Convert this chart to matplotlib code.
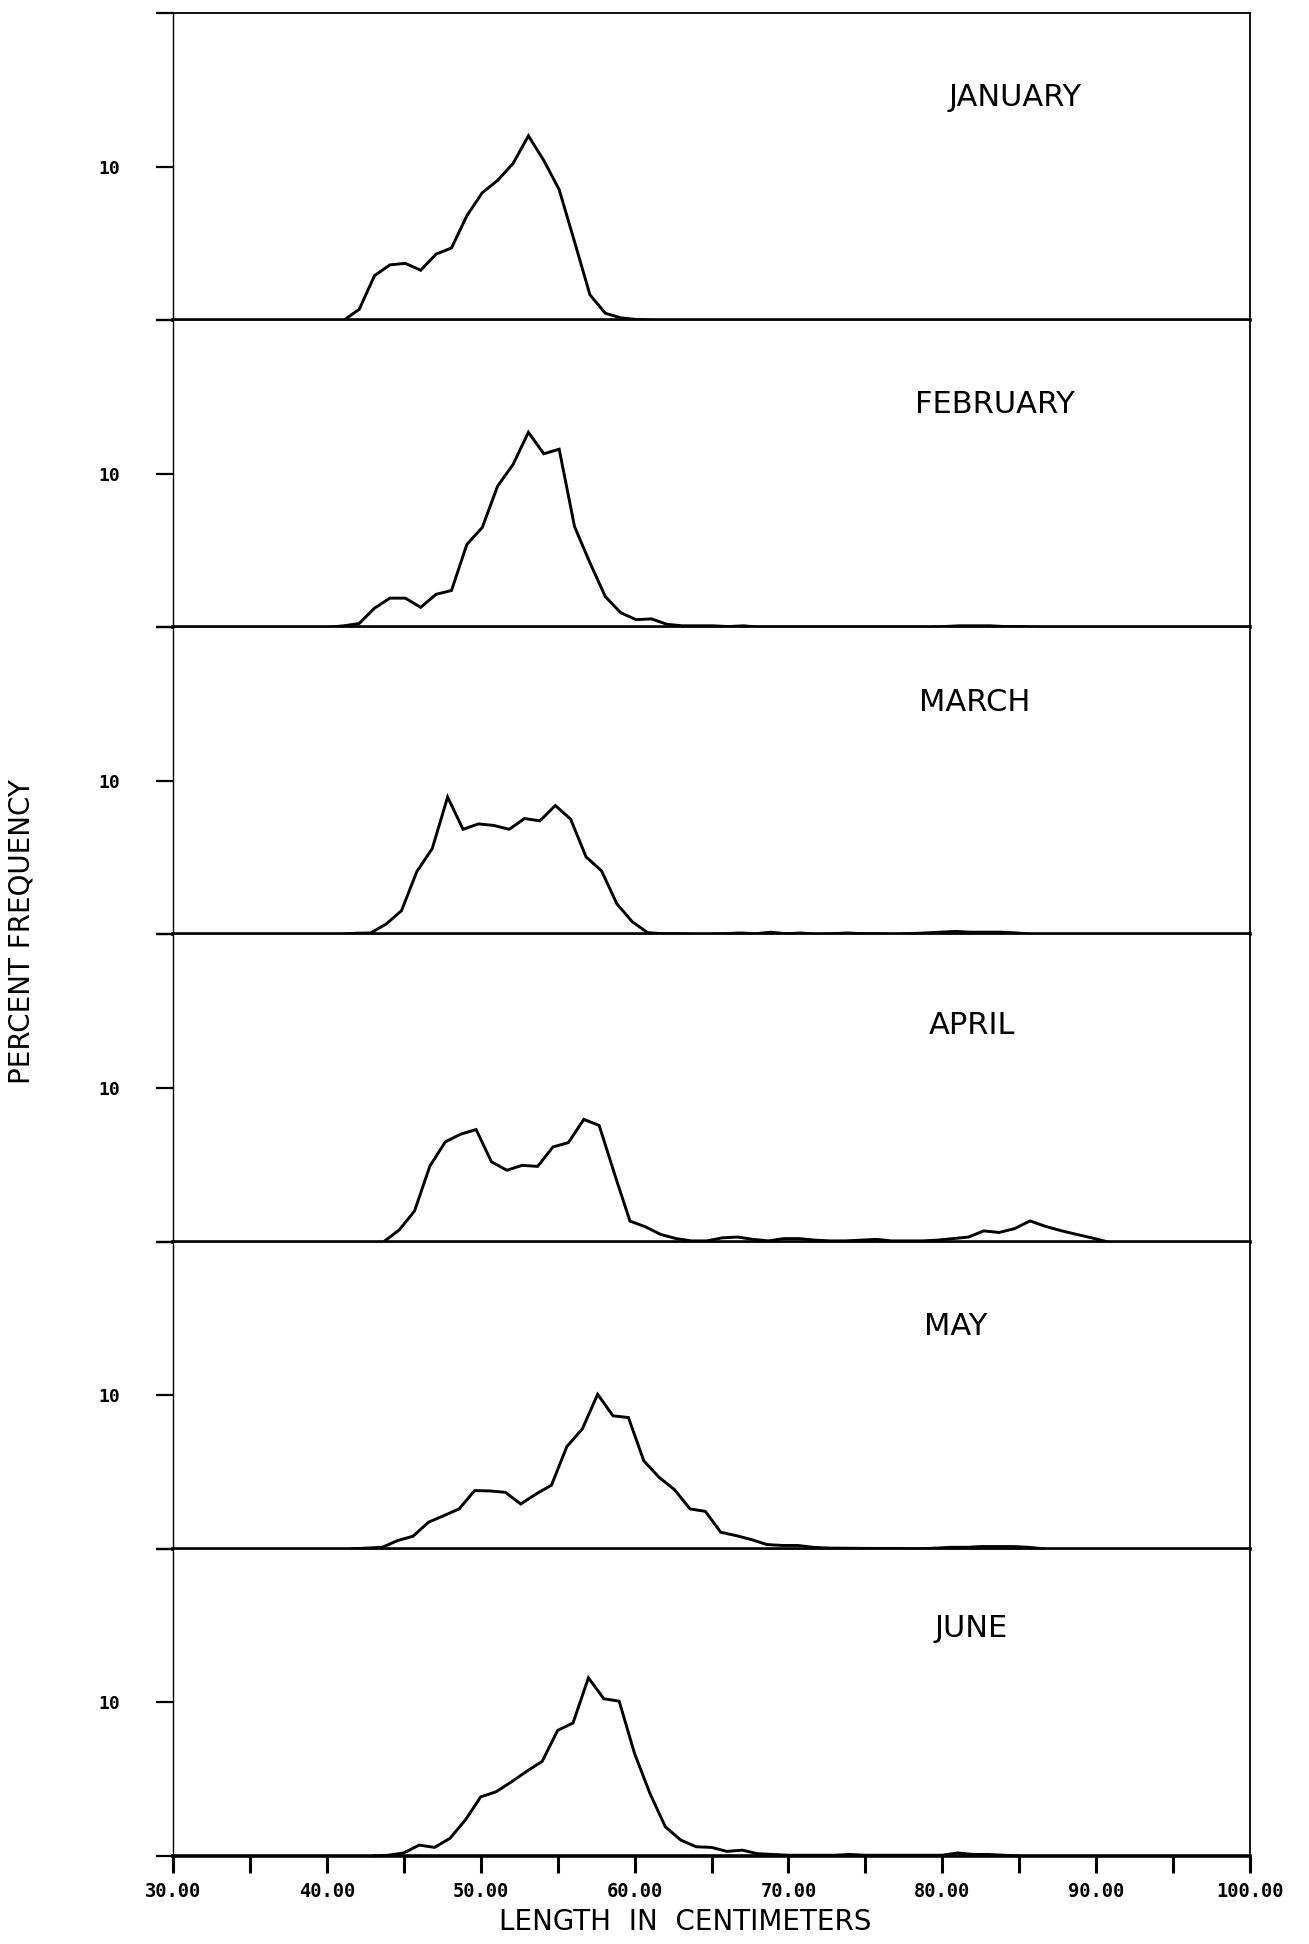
import numpy as np
import matplotlib
matplotlib.use("Agg")
import matplotlib.pyplot as plt

# ---------------- data ----------------
months = ["JANUARY", "FEBRUARY", "MARCH", "APRIL", "MAY", "JUNE"]

jan_len = [41.1, 42.1, 43.1, 44.1, 45.1, 46.1, 47.1, 48.1, 49.1, 50.1, 51.1,
           52.1, 53.1, 54.1, 55.1, 56.1, 57.1, 58.1, 59.1, 60.1, 61.1]
jan_pct = [0, 0.7, 2.9, 3.6, 3.7, 3.25, 4.3, 4.7, 6.8, 8.3, 9.1,
           10.2, 12.0, 10.4, 8.5, 5.1, 1.65, 0.45, 0.15, 0.05, 0]

feb_len = [40.1, 41.1, 42.1, 43.1, 44.1, 45.1, 46.1, 47.1, 48.1, 49.1, 50.1,
           51.1, 52.1, 53.1, 54.1, 55.1, 56.1, 57.1, 58.1, 59.1, 60.1, 61.1,
           62.1, 63.1, 64.1, 65.1, 66.1, 67.1, 68.1,
           79.1, 80.1, 81.1, 82.1, 83.1, 84.1, 85.1, 86.1]
feb_pct = [0, 0.1, 0.25, 1.25, 1.9, 1.9, 1.3, 2.15, 2.4, 5.4, 6.5,
           9.2, 10.6, 12.7, 11.3, 11.6, 6.55, 4.2, 2.0, 0.95, 0.5, 0.55,
           0.2, 0.1, 0.1, 0.1, 0.05, 0.1, 0,
           0, 0.05, 0.1, 0.1, 0.1, 0.05, 0.05, 0]

mar_len = [40.85, 41.85, 42.85, 43.85, 44.85, 45.85, 46.85, 47.85, 48.85, 49.85,
           50.85, 51.85, 52.85, 53.85, 54.85, 55.85, 56.85, 57.85, 58.85, 59.85,
           60.85, 61.85, 62.85, 63.85, 64.85, 65.85, 66.85, 67.85, 68.85, 69.85,
           70.85, 71.85, 72.85, 73.85, 74.85, 75.85, 76.85, 77.85, 78.85, 79.85,
           80.85, 81.85, 82.85, 83.85, 84.85, 85.85]
mar_pct = [0, 0.08, 0.1, 0.68, 1.55, 4.1, 5.6, 8.95, 6.85, 7.2,
           7.1, 6.85, 7.55, 7.4, 8.4, 7.5, 5.05, 4.15, 2.0, 0.83,
           0.12, 0.05, 0.05, 0, 0, 0.05, 0.1, 0.05, 0.15, 0.05,
           0.1, 0, 0.05, 0.1, 0.05, 0.05, 0, 0.05, 0.1, 0.15,
           0.2, 0.15, 0.15, 0.15, 0.1, 0]

apr_len = [43.7, 44.7, 45.7, 46.7, 47.7, 48.7, 49.7, 50.7, 51.7, 52.7,
           53.7, 54.7, 55.7, 56.7, 57.7, 58.7, 59.7, 60.7, 61.7, 62.7,
           63.7, 64.7, 65.7, 66.7, 67.7, 68.7, 69.7, 70.7, 71.7, 72.7,
           73.7, 74.7, 75.7, 76.7, 77.7, 78.7, 79.7, 80.7, 81.7, 82.7,
           83.7, 84.7, 85.7, 86.7, 87.7, 88.7, 89.7, 90.7]
apr_pct = [0, 0.76, 2.0, 4.93, 6.5, 7.0, 7.3, 5.2, 4.65, 4.97,
           4.9, 6.17, 6.45, 7.96, 7.57, 4.4, 1.34, 0.97, 0.47, 0.2,
           0.05, 0.05, 0.25, 0.3, 0.15, 0.05, 0.2, 0.2, 0.1, 0.05,
           0.05, 0.1, 0.15, 0.05, 0.05, 0.05, 0.1, 0.2, 0.3, 0.7,
           0.6, 0.85, 1.35, 1.0, 0.72, 0.48, 0.25, 0]

may_len = [41.6, 42.6, 43.6, 44.6, 45.6, 46.6, 47.6, 48.6, 49.6, 50.6,
           51.6, 52.6, 53.6, 54.6, 55.6, 56.6, 57.6, 58.6, 59.6, 60.6,
           61.6, 62.6, 63.6, 64.6, 65.6, 66.6, 67.6, 68.6, 69.6, 70.6,
           71.6, 72.6, 78.6, 79.6, 80.6, 81.6, 82.6, 83.6, 84.6, 85.6, 86.6]
may_pct = [0, 0.05, 0.1, 0.54, 0.82, 1.73, 2.16, 2.6, 3.79, 3.77,
           3.68, 2.92, 3.57, 4.15, 6.66, 7.8, 10.06, 8.66, 8.55, 5.73,
           4.65, 3.85, 2.6, 2.44, 1.08, 0.86, 0.6, 0.28, 0.22, 0.22,
           0.1, 0.05, 0, 0.05, 0.1, 0.1, 0.15, 0.15, 0.15, 0.1, 0]

jun_len = [43, 44, 45, 46, 47, 48, 49, 50, 51, 52, 53, 54, 55, 56, 57, 58, 59,
           60, 61, 62, 63, 64, 65, 66, 67, 68, 69, 70, 71, 72, 73, 74, 75,
           76, 77, 78, 79, 80, 81, 82, 83, 84, 85]
jun_pct = [0, 0.05, 0.2, 0.71, 0.56, 1.15, 2.34, 3.85, 4.18, 4.83, 5.52, 6.17,
           8.18, 8.66, 11.6, 10.24, 10.08, 6.67, 4.07, 1.9, 1.04, 0.6, 0.56,
           0.3, 0.38, 0.15, 0.1, 0.05, 0.05, 0.05, 0.05, 0.1, 0.05, 0.05,
           0.05, 0.05, 0.05, 0.05, 0.2, 0.1, 0.1, 0.05, 0]

lengths = [jan_len, feb_len, mar_len, apr_len, may_len, jun_len]
percents = [jan_pct, feb_pct, mar_pct, apr_pct, may_pct, jun_pct]

x_ticks = [30, 35, 40, 45, 50, 55, 60, 65, 70, 75, 80, 85, 90, 95, 100]
x_tick_labels = ["30.00", "", "40.00", "", "50.00", "", "60.00", "", "70.00",
                 "", "80.00", "", "90.00", "", "100.00"]
y_ticks = [0, 10, 20]
y_tick_labels = ["", "10", ""]

# month label anchor positions (data coords)
label_x = [84.7, 83.4, 82.1, 81.9, 80.9, 81.9]
label_y = [14.5, 14.5, 15.1, 14.1, 14.5, 14.8]

# ---------------- figure ----------------
W, H = 1309, 1944
fig = plt.figure(figsize=(W / 100, H / 100), dpi=100, facecolor="white")
left, right = 173 / W, 1250 / W
top, bottom = 1 - 13 / H, 1 - 1856 / H
gs = fig.add_gridspec(6, 1, left=left, right=right, top=top, bottom=bottom,
                      hspace=0)

mono = "DejaVu Sans Mono"
lab_font = "DejaVu Sans"

axes = []
for i in range(6):
    ax = fig.add_subplot(gs[i, 0])
    axes.append(ax)
    ax.plot(lengths[i], percents[i], color="black", lw=2.1, clip_on=False,
            solid_joinstyle="miter")
    ax.set_xlim(30, 100)
    ax.set_ylim(0, 20)
    ax.set_yticks(y_ticks)
    ax.set_yticklabels(y_tick_labels, family=mono, fontweight="bold",
                       fontsize=13)
    ax.tick_params(axis="y", direction="out", length=12, width=1.6, pad=26,
                   colors="black")
    ax.spines["left"].set_linewidth(1.0)
    ax.spines["top"].set_linewidth(1.3)
    ax.spines["right"].set_linewidth(1.3)
    ax.spines["bottom"].set_linewidth(2.6)
    ax.text(label_x[i], label_y[i], months[i], ha="center", va="center",
            fontsize=22, family=lab_font, color="black")
    if i < 5:
        ax.tick_params(axis="x", bottom=False, labelbottom=False)
    else:
        ax.set_xticks(x_ticks)
        ax.set_xticklabels(x_tick_labels, family=mono, fontweight="bold",
                           fontsize=13.5)
        ax.tick_params(axis="x", direction="out", length=12, width=2.2,
                       pad=7, colors="black")

fig.text(685 / W, 1 - 1922 / H, "LENGTH  IN  CENTIMETERS", ha="center",
         va="center", fontsize=20, family=lab_font)
fig.text(22 / W, 1 - 932 / H, "PERCENT FREQUENCY", ha="center", va="center",
         rotation=90, fontsize=20, family=lab_font)

fig.savefig("out.png", dpi=100, facecolor="white")
